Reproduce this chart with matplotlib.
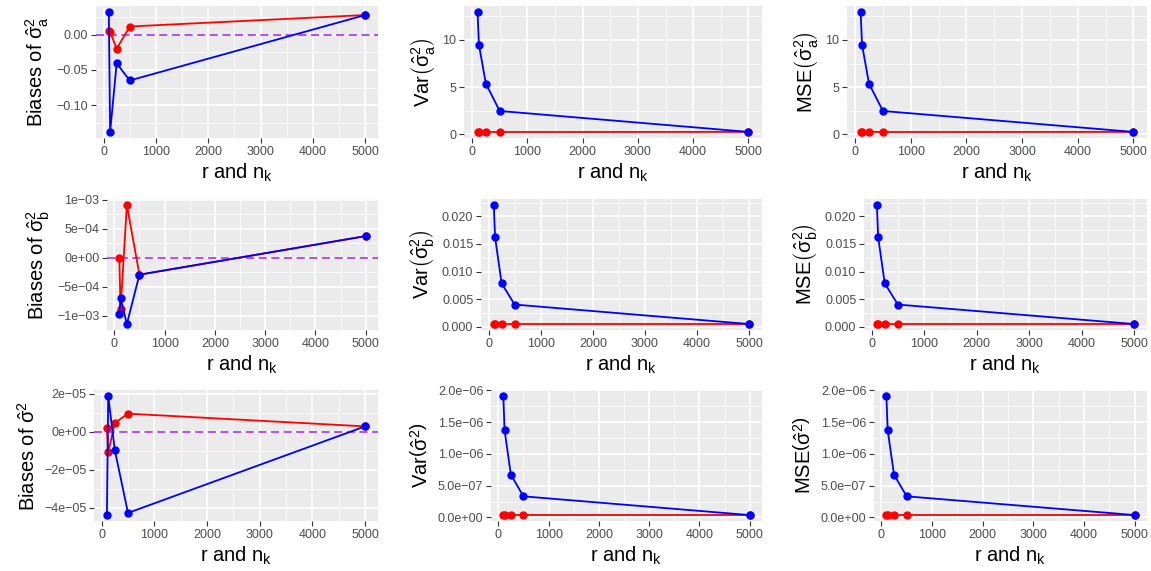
import matplotlib
matplotlib.use("Agg")
import matplotlib.pyplot as plt
from matplotlib.ticker import MultipleLocator, FixedLocator

plt.rcParams['font.family'] = ['Liberation Sans', 'DejaVu Sans']
plt.rcParams['mathtext.fontset'] = 'custom'
plt.rcParams['mathtext.rm'] = 'Liberation Sans'
plt.rcParams['mathtext.it'] = 'Liberation Sans:italic'
plt.rcParams['mathtext.bf'] = 'Liberation Sans:bold'
plt.rcParams['mathtext.sf'] = 'Liberation Sans'

# ---------------- data ----------------
x_vals = [100, 125, 250, 500, 5000]

bias_a_red = [0.0051, 0.0037, -0.0200, 0.0114, 0.0276]
bias_a_blue = [0.0319, -0.1377, -0.0406, -0.0649, 0.0276]
var_a_red = [0.26, 0.26, 0.25, 0.24, 0.25]
var_a_blue = [12.97, 9.50, 5.38, 2.47, 0.25]
mse_a_red = [0.26, 0.26, 0.25, 0.24, 0.25]
mse_a_blue = [12.97, 9.50, 5.38, 2.47, 0.25]

bias_b_red = [0.0, -8.8e-4, 9.13e-4, -2.89e-4, 3.76e-4]
bias_b_blue = [-9.6e-4, -6.9e-4, -1.14e-3, -2.89e-4, 3.76e-4]
var_b_red = [0.00049, 0.00049, 0.00049, 0.00049, 0.00049]
var_b_blue = [0.02207, 0.01622, 0.00787, 0.00402, 0.00049]
mse_b_red = [0.00049, 0.00049, 0.00049, 0.00049, 0.00049]
mse_b_blue = [0.02207, 0.01622, 0.00787, 0.00402, 0.00049]

bias_s_red = [1.76e-6, -1.09e-5, 4.6e-6, 9.5e-6, 2.8e-6]
bias_s_blue = [-4.38e-5, 1.88e-5, -9.7e-6, -4.27e-5, 2.8e-6]
var_s_red = [3.7e-8, 3.7e-8, 3.7e-8, 3.7e-8, 3.7e-8]
var_s_blue = [1.905e-6, 1.374e-6, 6.74e-7, 3.32e-7, 3.7e-8]
mse_s_red = [3.7e-8, 3.7e-8, 3.7e-8, 3.7e-8, 3.7e-8]
mse_s_blue = [1.905e-6, 1.374e-6, 6.74e-7, 3.32e-7, 3.7e-8]

x_ticks = [0, 1000, 2000, 3000, 4000, 5000]
x_ticklabels = ['0', '1000', '2000', '3000', '4000', '5000']

yt_bias_a = [0.0, -0.05, -0.10]
yl_bias_a = ['0.00', '\u22120.05', '\u22120.10']
yt_var_a = [0, 5, 10]
yl_var_a = ['0', '5', '10']
yt_bias_b = [1e-3, 5e-4, 0, -5e-4, -1e-3]
yl_bias_b = ['1e\u221203', '5e\u221204', '0e+00', '\u22125e\u221204', '\u22121e\u221203']
yt_var_b = [0.0, 0.005, 0.010, 0.015, 0.020]
yl_var_b = ['0.000', '0.005', '0.010', '0.015', '0.020']
yt_bias_s = [2e-5, 0, -2e-5, -4e-5]
yl_bias_s = ['2e\u221205', '0e+00', '\u22122e\u221205', '\u22124e\u221205']
yt_var_s = [0, 5e-7, 1e-6, 1.5e-6, 2e-6]
yl_var_s = ['0.0e+00', '5.0e\u221207', '1.0e\u221206', '1.5e\u221206', '2.0e\u221206']

xlabel = r'r and n$_\mathregular{k}$'

W, H = 1151, 571
fig = plt.figure(figsize=(W / 100, H / 100), dpi=100)

rows = [(6, 138), (199, 330), (390, 521)]
lefts = [[96, 464, 847], [107, 481, 864], [94, 491, 874]]
right = [378, 762, 1147]

panels = [
    [(bias_a_red, bias_a_blue, yt_bias_a, yl_bias_a, r'Biases of $\hat{\mathregular{\sigma}}_\mathregular{a}^2$', True),
     (var_a_red, var_a_blue, yt_var_a, yl_var_a, r'Var$\left(\hat{\mathregular{\sigma}}_\mathregular{a}^2\right)$', False),
     (mse_a_red, mse_a_blue, yt_var_a, yl_var_a, r'MSE$\left(\hat{\mathregular{\sigma}}_\mathregular{a}^2\right)$', False)],
    [(bias_b_red, bias_b_blue, yt_bias_b, yl_bias_b, r'Biases of $\hat{\mathregular{\sigma}}_\mathregular{b}^2$', True),
     (var_b_red, var_b_blue, yt_var_b, yl_var_b, r'Var$\left(\hat{\mathregular{\sigma}}_\mathregular{b}^2\right)$', False),
     (mse_b_red, mse_b_blue, yt_var_b, yl_var_b, r'MSE$\left(\hat{\mathregular{\sigma}}_\mathregular{b}^2\right)$', False)],
    [(bias_s_red, bias_s_blue, yt_bias_s, yl_bias_s, r'Biases of $\hat{\mathregular{\sigma}}^2$', True),
     (var_s_red, var_s_blue, yt_var_s, yl_var_s, r'Var$\left(\hat{\mathregular{\sigma}}^2\right)$', False),
     (mse_s_red, mse_s_blue, yt_var_s, yl_var_s, r'MSE$\left(\hat{\mathregular{\sigma}}^2\right)$', False)],
]

for r in range(3):
    top, bot = rows[r]
    for c in range(3):
        l = lefts[r][c]
        rr = right[c]
        ax = fig.add_axes([l / W, 1 - bot / H, (rr - l) / W, (bot - top) / H])
        red, blue, yt, yl, ylab, bias = panels[r][c]
        ax.set_facecolor('#EBEBEB')
        for s in ax.spines.values():
            s.set_visible(False)
        if bias:
            ax.axhline(0, color='#A020F0', lw=1.3, ls=(0, (4.5, 2.5)), alpha=0.85, zorder=2)
        ax.plot(x_vals, red, color='#FF0000', lw=1.3, marker='o', ms=5, zorder=3)
        ax.plot(x_vals, blue, color='#0000FF', lw=1.3, marker='o', ms=5, zorder=4)
        ax.margins(x=0.05, y=0.05)
        ax.xaxis.set_major_locator(FixedLocator(x_ticks))
        ax.set_xticklabels(x_ticklabels)
        ax.xaxis.set_minor_locator(MultipleLocator(500))
        lo, hi = ax.get_ylim()
        span = hi - lo
        ax.set_ylim(min(lo, min(yt) - span * 0.003), max(hi, max(yt) + span * 0.003))
        ax.yaxis.set_major_locator(FixedLocator(yt))
        ax.set_yticklabels(yl)
        step = abs(yt[1] - yt[0])
        ax.yaxis.set_minor_locator(MultipleLocator(step / 2))
        ax.grid(which='major', color='white', lw=1.1)
        ax.grid(which='minor', color='white', lw=0.55)
        ax.set_axisbelow(True)
        ax.tick_params(which='major', length=3.5, width=0.8, color='#333333',
                       labelsize=9, labelcolor='#4D4D4D', pad=2)
        ax.tick_params(which='minor', length=0)
        ax.set_xlabel(xlabel, fontsize=14.5, labelpad=3)
        ax.set_ylabel(ylab, fontsize=14.5, labelpad=4)

fig.savefig('out.png', dpi=100)
